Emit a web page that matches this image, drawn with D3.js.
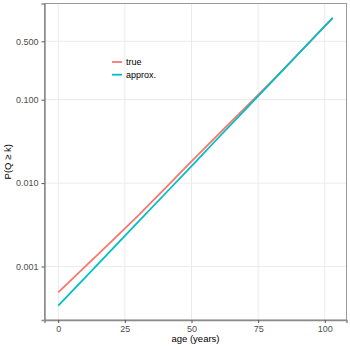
<!DOCTYPE html>
<html>
<head>
<meta charset="utf-8">
<script src="https://cdn.jsdelivr.net/npm/d3@7"></script>
<style>
  body { margin: 0; background: #fff; }
  svg { font-family: "Liberation Sans", Arial, sans-serif; display: block; }
</style>
</head>
<body>
<svg id="chart"></svg>
<script>
// ages
const ages = [0, 10, 20, 30, 40, 50, 60, 70, 80, 90, 100, 103];
// P(Q >= k)
const trueVals   = [4.9e-4, 9.9e-4, 2.0e-3, 4.07e-3, 8.6e-3, 0.0182, 0.038, 0.079, 0.164, 0.352, 0.76, 0.955];
const approxVals = [3.4e-4, 7.3e-4, 1.58e-3, 3.43e-3, 7.4e-3, 0.016, 0.0347, 0.075, 0.162, 0.351, 0.76, 0.955];
const seriesNames = ["true", "approx."];
const xTicks = [0, 25, 50, 75, 100];
const yTicks = [0.001, 0.01, 0.1, 0.5];

const width = 350, height = 350;
const margin = { top: 3.5, right: 3.5, bottom: 30, left: 44.5 };
const colors = { "true": "#F8766D", "approx.": "#00BFC4" };

const svg = d3.select("#chart").attr("width", width).attr("height", height);

// ggplot-style 5% expansion
const xMin = d3.min(ages), xMax = d3.max(ages);
const xPad = (xMax - xMin) * 0.05;
const xScale = d3.scaleLinear()
  .domain([xMin - xPad, xMax + xPad])
  .range([margin.left, width - margin.right]);

const allY = trueVals.concat(approxVals).map(Math.log10);
const lMin = d3.min(allY), lMax = d3.max(allY);
const lPad = (lMax - lMin) * 0.05;
const yScale = d3.scaleLog()
  .domain([Math.pow(10, lMin - lPad), Math.pow(10, lMax + lPad)])
  .range([height - margin.bottom, margin.top]);

const x0 = margin.left, x1 = width - margin.right;
const y0 = height - margin.bottom, y1 = margin.top;

// grid
svg.append("g").selectAll("line").data(xTicks).join("line")
  .attr("x1", d => xScale(d)).attr("x2", d => xScale(d))
  .attr("y1", y0).attr("y2", y1)
  .attr("stroke", "#ebebeb").attr("stroke-width", 1);
svg.append("g").selectAll("line").data(yTicks).join("line")
  .attr("y1", d => yScale(d)).attr("y2", d => yScale(d))
  .attr("x1", x0).attr("x2", x1)
  .attr("stroke", "#ebebeb").attr("stroke-width", 1);

// lines
const line = d3.line()
  .x((d, i) => xScale(ages[i]))
  .y(d => yScale(d));

svg.append("path").datum(trueVals)
  .attr("fill", "none").attr("stroke", colors["true"])
  .attr("stroke-width", 1.8).attr("d", line);
svg.append("path").datum(approxVals)
  .attr("fill", "none").attr("stroke", colors["approx."])
  .attr("stroke-width", 1.8).attr("d", line);

// panel border
svg.append("rect")
  .attr("x", x0).attr("y", y1)
  .attr("width", x1 - x0).attr("height", y0 - y1)
  .attr("fill", "none").attr("stroke", "#9a9a9a").attr("stroke-width", 1);

// axes
const xAxis = d3.axisBottom(xScale).tickValues(xTicks).tickSize(3).tickPadding(3);
const yAxis = d3.axisLeft(yScale).tickValues(yTicks).tickSize(3).tickPadding(3)
  .tickFormat(d3.format(".3f"));

const gx = svg.append("g").attr("transform", "translate(0," + y0 + ")").call(xAxis);
const gy = svg.append("g").attr("transform", "translate(" + x0 + ",0)").call(yAxis);
[gx, gy].forEach(g => {
  g.select(".domain").attr("stroke", "#8a8a8a").attr("stroke-width", 1.5);
  g.selectAll(".tick line").attr("stroke", "#555");
  g.selectAll(".tick text").attr("fill", "#4d4d4d").style("font-size", "9px")
    .style("font-family", "Liberation Sans, Arial, sans-serif");
});

// axis titles
svg.append("text")
  .attr("x", (x0 + x1) / 2).attr("y", 342)
  .attr("text-anchor", "middle").style("font-size", "9.5px").attr("fill", "#000")
  .text("age (years)");
svg.append("text")
  .attr("transform", "translate(11," + (y0 + y1) / 2 + ") rotate(-90)")
  .attr("text-anchor", "middle").style("font-size", "9.5px").attr("fill", "#000")
  .text("P(Q \u2265 k)");

// legend
const legend = svg.append("g").attr("transform", "translate(112,62)");
seriesNames.forEach((name, i) => {
  const g = legend.append("g").attr("transform", "translate(0," + i * 12.7 + ")");
  g.append("line").attr("x1", 0).attr("x2", 10).attr("y1", 0).attr("y2", 0)
    .attr("stroke", colors[name]).attr("stroke-width", 1.8);
  g.append("text").attr("x", 14).attr("y", 3.2)
    .style("font-size", "9px").attr("fill", "#000").text(name);
});
</script>
</body>
</html>
